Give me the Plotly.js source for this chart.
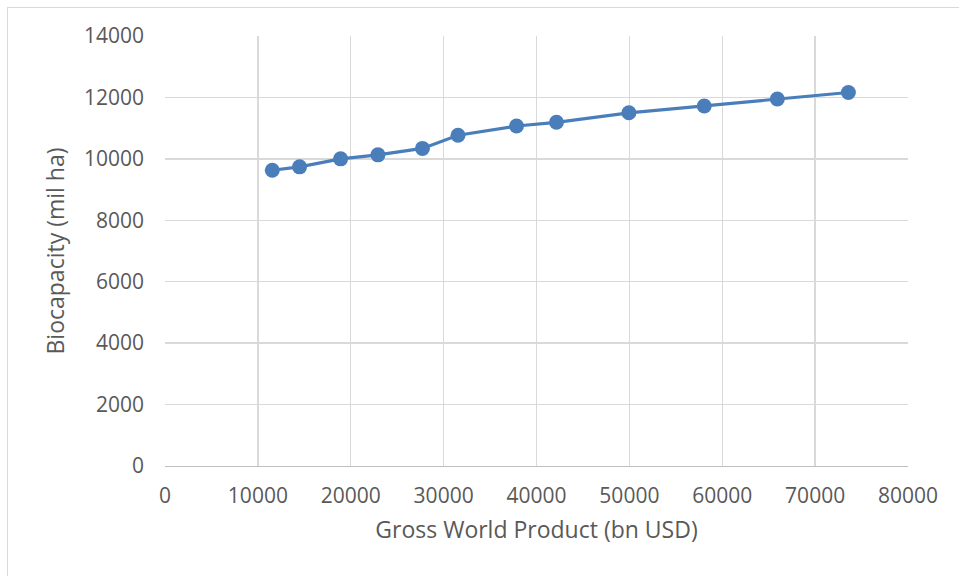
<!DOCTYPE html>
<html>
<head>
<meta charset="utf-8">
<script src="https://cdn.plot.ly/plotly-3.0.1.min.js"></script>
<style>
html,body{margin:0;padding:0;background:#fff;overflow:hidden;}
#frame{position:absolute;left:7px;top:7px;width:1000px;height:600px;border-left:1px solid #d9d9d9;border-top:1px solid #d9d9d9;}
#chart{position:absolute;left:0;top:0;width:959px;height:576px;}
</style>
</head>
<body>
<div id="frame"></div>
<div id="chart"></div>
<script>
const gwp = [11550, 14490, 18910, 22930, 27720, 31550, 37850, 42150, 49950, 58060, 65930, 73580];
const biocapacity = [9630, 9740, 10000, 10130, 10340, 10770, 11070, 11190, 11500, 11720, 11950, 12160];
const xTicks = [0, 10000, 20000, 30000, 40000, 50000, 60000, 70000, 80000];
const yTicks = [0, 2000, 4000, 6000, 8000, 10000, 12000, 14000];
const xTitle = "Gross World Product (bn USD)";
const yTitle = "Biocapacity (mil ha)";

const fontFam = "'Open Sans', 'Noto Sans', sans-serif";
const trace = {
  x: gwp, y: biocapacity, type: 'scatter', mode: 'lines+markers',
  line: {color: '#4a7ebb', width: 3.2},
  marker: {color: '#4a7ebb', size: 15},
  hoverinfo: 'skip'
};
const layout = {
  width: 959, height: 576,
  margin: {l: 165, r: 51, t: 36, b: 110},
  paper_bgcolor: 'rgba(0,0,0,0)', plot_bgcolor: 'rgba(0,0,0,0)',
  showlegend: false,
  font: {family: fontFam, color: '#595959', size: 21},
  xaxis: {
    range: [0, 80000], tickvals: xTicks, ticktext: xTicks.map(String),
    showgrid: true, gridcolor: '#d9d9d9', gridwidth: 1.4,
    zeroline: false, showline: true, linecolor: '#bfbfbf', linewidth: 1.4,
    ticks: '', ticklabelstandoff: 10,
    tickfont: {size: 21, color: '#595959', family: fontFam},
    title: {text: xTitle, font: {size: 23, color: '#595959', family: fontFam}, standoff: 14}
  },
  yaxis: {
    range: [0, 14000], tickvals: yTicks, ticktext: yTicks.map(String),
    showgrid: true, gridcolor: '#d9d9d9', gridwidth: 1.4,
    zeroline: false, showline: false,
    ticks: '', ticklabelstandoff: 20,
    tickfont: {size: 21, color: '#595959', family: fontFam},
    title: {text: yTitle, font: {size: 23, color: '#595959', family: fontFam}, standoff: 12}
  }
};
Plotly.newPlot('chart', [trace], layout, {displayModeBar: false, staticPlot: true});
</script>
</body>
</html>
